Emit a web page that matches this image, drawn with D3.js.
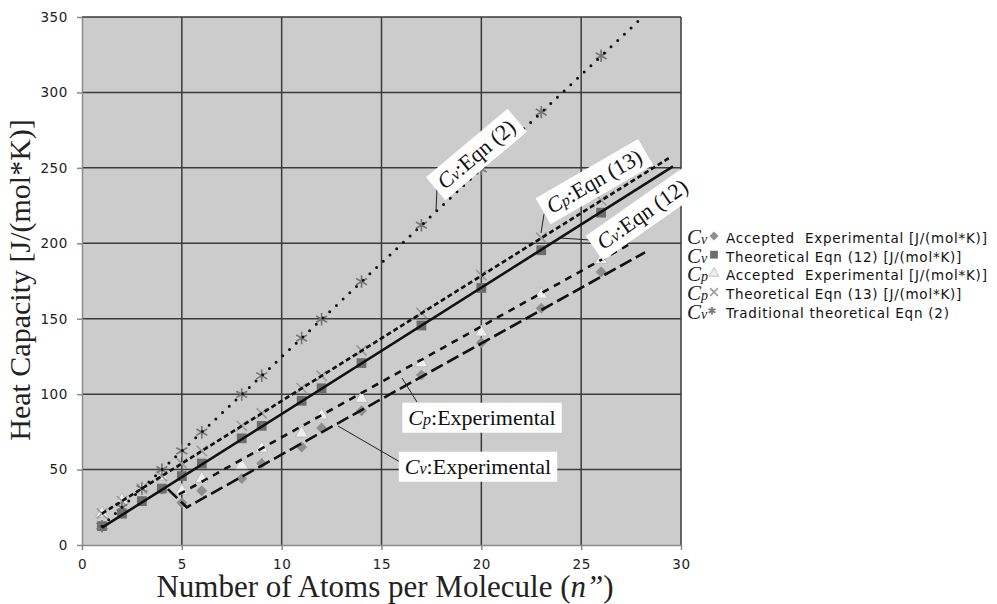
<!DOCTYPE html>
<html><head><meta charset="utf-8">
<script src="https://cdn.jsdelivr.net/npm/d3@7"></script>
<style>body{margin:0;background:#fff}</style>
</head><body><svg id="c" width="997" height="604"></svg>
<script>
// ---- data ----
const nAtoms   = [1, 2, 3, 4, 5, 6, 8, 9, 11, 12, 14, 17, 20, 23, 26];
const cvExp    = [12.5, 20.8, 29, 37, 28, 36, 44, 54, 65, 77.5, 89, 112.7, 134, 157, 181];
const cvEqn12  = [12.5, 20.8, 29.1, 37.4, 45.7, 54.0, 70.7, 79.0, 95.6, 103.9, 120.6, 145.5, 170.4, 195.4, 220.3];
const cpExp    = [21, 29.5, 37.5, 45.5, 36, 44, 53, 64, 74, 86, 97, 120.6, 141, 166, 189];
const cpEqn13  = [20.8, 29.1, 37.4, 45.7, 54.0, 62.4, 79.0, 87.3, 104.0, 112.2, 128.9, 153.8, 178.8, 203.7, 228.6];
const cvEqn2   = [12.5, 24.9, 37.4, 49.9, 62.4, 74.8, 99.8, 112.2, 137.2, 149.7, 174.6, 212.0, 249.4, 286.9, 324.3];
// trend lines (x, value) drawn in chart
const fitCvEqn2  = [[1, 12.5], [28, 349]];
const fitCpEqn13 = [[1, 20.8], [29.4, 256.5]];
const fitCvEqn12 = [[1, 11.5], [29.6, 251]];
const fitCpExp   = [[4.85, 33.5], [27.5, 200]];
const fitCvExp   = [[4.3, 37], [5.25, 25], [28.2, 194]];
const xTicks = [0, 5, 10, 15, 20, 25, 30];
const yTicks = [0, 50, 100, 150, 200, 250, 300, 350];
const legendItems = [
  {sym: "v", marker: "diamond",  label: "Accepted  Experimental [J/(mol*K)]"},
  {sym: "v", marker: "square",   label: "Theoretical Eqn (12) [J/(mol*K)]"},
  {sym: "p", marker: "triangle", label: "Accepted  Experimental [J/(mol*K)]"},
  {sym: "p", marker: "x",        label: "Theoretical Eqn (13) [J/(mol*K)]"},
  {sym: "v", marker: "star",     label: "Traditional theoretical Eqn (2)"}
];

// ---- chart ----
const svg = d3.select('#c');
const x = d3.scaleLinear().domain([0, 30]).range([82, 681]);
const y = d3.scaleLinear().domain([0, 350]).range([545, 17]);
const SERIF = "'Liberation Serif','Times New Roman',serif";
const SANS = "'DejaVu Sans',Verdana,sans-serif";

svg.append('rect').attr('x', x(0)).attr('y', y(350))
  .attr('width', x(30) - x(0)).attr('height', y(0) - y(350)).attr('fill', '#cccccc');

const grid = svg.append('g');
yTicks.filter(d => d > 0).forEach(v => grid.append('line')
  .attr('x1', x(0)).attr('x2', x(30)).attr('y1', y(v)).attr('y2', y(v))
  .attr('stroke', '#3a3a3a').attr('stroke-width', 1.5));
xTicks.filter(d => d > 0).forEach(v => grid.append('line')
  .attr('x1', x(v)).attr('x2', x(v)).attr('y1', y(0)).attr('y2', y(350))
  .attr('stroke', '#3a3a3a').attr('stroke-width', 1.5));

const yAxis = svg.append('g').attr('transform', `translate(${x(0)},0)`)
  .call(d3.axisLeft(y).tickValues(yTicks).tickSize(5).tickPadding(9).tickSizeOuter(0));
const xAxis = svg.append('g').attr('transform', `translate(0,${y(0)})`)
  .call(d3.axisBottom(x).tickValues(xTicks).tickSize(5).tickPadding(9).tickSizeOuter(0));
[yAxis, xAxis].forEach(a => {
  a.selectAll('path,line').attr('stroke', '#8a8a8a').attr('stroke-width', 1.5);
  a.selectAll('text').attr('font-family', SANS).attr('font-size', 13.5)
    .attr('letter-spacing', '0.6px').attr('fill', '#222');
});

// markers
const squareDiamond = {draw(ctx, size) {
  const r = Math.sqrt(size / 2);
  ctx.moveTo(0, -r); ctx.lineTo(r, 0); ctx.lineTo(0, r); ctx.lineTo(-r, 0); ctx.closePath();
}};
const types = {diamond: squareDiamond, square: d3.symbolSquare, triangle: d3.symbolTriangle,
  x: d3.symbolX, star: d3.symbolAsterisk};
const sizes = {diamond: 60, square: 95, triangle: 70, x: 70, star: 110};
function styleMarker(p, kind) {
  if (kind === 'diamond') p.attr('fill', '#8e8e8e');
  if (kind === 'square') p.attr('fill', '#6c6c6c');
  if (kind === 'triangle') p.attr('fill', '#eeeeee').attr('stroke', '#b5b5b5').attr('stroke-width', 0.8);
  if (kind === 'x') p.attr('fill', 'none').attr('stroke', '#9a9a9a').attr('stroke-width', 1.6);
  if (kind === 'star') p.attr('fill', 'none').attr('stroke', '#777').attr('stroke-width', 1.7);
}
function markers(vals, kind) {
  const grp = svg.append('g');
  vals.forEach((v, i) => {
    const p = grp.append('path').attr('d', d3.symbol().type(types[kind]).size(sizes[kind])())
      .attr('transform', `translate(${x(nAtoms[i])},${y(v)})`);
    styleMarker(p, kind);
  });
}
markers(cvExp, 'diamond');
markers(cvEqn12, 'square');
markers(cpExp, 'triangle');
markers(cpEqn13, 'x');
markers(cvEqn2, 'star');

// trend lines
const lineGen = d3.line().x(d => x(d[0])).y(d => y(d[1]));
function trend(data, dash, cap) {
  svg.append('path').attr('d', lineGen(data)).attr('fill', 'none')
    .attr('stroke', '#111').attr('stroke-width', cap ? 3 : 2.6)
    .attr('stroke-dasharray', dash).attr('stroke-linecap', cap || 'butt');
}
trend(fitCvEqn2, '0,9.2', 'round');
trend(fitCpEqn13, '5,3');
trend(fitCvEqn12, null);
trend(fitCpExp, '7,6');
trend(fitCvExp, '13,5');

// annotations
function label(cx, cy, angle, sub, rest) {
  const g = svg.append('g').attr('transform', `translate(${cx},${cy}) rotate(${angle})`);
  const t = g.append('text').attr('font-family', SERIF).attr('font-size', 22)
    .attr('text-anchor', 'middle').attr('dy', '0.35em').attr('fill', '#111');
  t.append('tspan').attr('font-style', 'italic').text('C');
  t.append('tspan').attr('font-style', 'italic').attr('font-size', 16).text(sub);
  t.append('tspan').text(rest);
  const b = t.node().getBBox();
  g.insert('rect', 'text').attr('x', b.x - 6).attr('y', b.y - 2)
    .attr('width', b.width + 12).attr('height', b.height + 5).attr('fill', '#fff');
}
function leader(pts) {
  svg.append('polyline').attr('points', pts.map(p => p.join(',')).join(' '))
    .attr('fill', 'none').attr('stroke', '#222').attr('stroke-width', 1);
}
leader([[437, 188], [436, 211]]);
leader([[544, 214], [541, 233]]);
leader([[560, 238], [590, 240]]);
leader([[402, 378], [417, 402]]);
leader([[338, 426], [400, 462]]);
label(476, 154, -40, 'v', ':Eqn (2)');
label(594, 181, -30, 'p', ':Eqn (13)');
label(642, 214, -35, 'v', ':Eqn (12)');
label(482, 417, 0, 'p', ':Experimental');
label(478, 466, 0, 'v', ':Experimental');

// legend
const lg = svg.append('g');
legendItems.forEach((it, i) => {
  const cy = 238 + i * 18.7;
  const t = lg.append('text').attr('x', 687).attr('y', cy + 6)
    .attr('font-family', SERIF).attr('font-size', 21).attr('fill', '#222');
  t.append('tspan').attr('font-style', 'italic').text('C');
  t.append('tspan').attr('font-style', 'italic').attr('font-size', 14).text(it.sym);
  const p = lg.append('path')
    .attr('d', d3.symbol().type(types[it.marker]).size(it.marker === 'square' ? 60 : 42)())
    .attr('transform', `translate(${it.marker === 'star' ? 712 : 714},${cy - 2})`);
  styleMarker(p, it.marker);
  lg.append('text').attr('x', 726).attr('y', cy + 5).attr('font-family', SANS)
    .attr('font-size', 13.5).attr('letter-spacing', '0.75px').attr('fill', '#111')
    .style('white-space', 'pre').text(it.label);
});

// axis titles
svg.append('text').attr('transform', 'translate(30,280) rotate(-90)')
  .attr('text-anchor', 'middle').attr('font-family', SERIF).attr('font-size', 30)
  .attr('fill', '#222').text('Heat Capacity [J/(mol*K)]');
const xt = svg.append('text').attr('x', 385).attr('y', 597).attr('text-anchor', 'middle')
  .attr('font-family', SERIF).attr('font-size', 31).attr('fill', '#222');
xt.append('tspan').text('Number of Atoms per Molecule (');
xt.append('tspan').attr('font-style', 'italic').text('n”');
xt.append('tspan').text(')');
</script>
</body></html>
